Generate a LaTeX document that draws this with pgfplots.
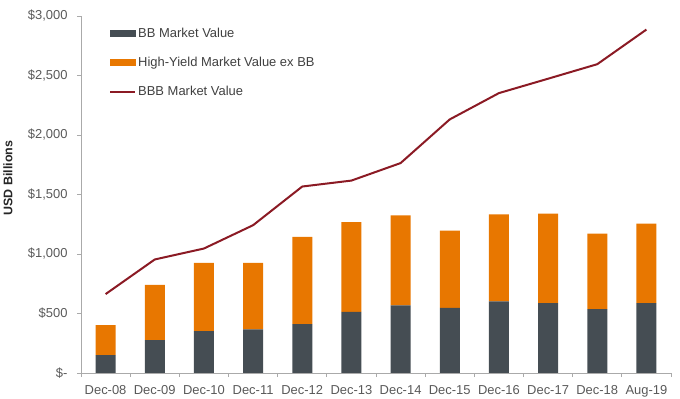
\documentclass[border=0pt]{standalone}
\usepackage{pgfplots}
\pgfplotsset{compat=1.18}
\usepackage{fontspec}
\setmainfont{Liberation Sans}
\definecolor{bbgray}{RGB}{69,77,83}
\definecolor{hyorange}{RGB}{232,119,0}
\definecolor{bbbred}{RGB}{139,26,36}
\definecolor{axgray}{RGB}{170,170,170}
\definecolor{txtgray}{RGB}{89,89,89}
\definecolor{legtxt}{RGB}{64,64,64}

\pgfplotstableread{
x bb hy bbb
0 151 252 663
1 277 464 954
2 352 573 1046
3 366 559 1242
4 411 733 1567
5 514 753 1617
6 568 757 1764
7 548 649 2131
8 601 733 2352
9 587 753 2473
10 537 635 2595
11 587 669 2886
}\datatable

\begin{document}
\begin{tikzpicture}
\useasboundingbox (0,0) rectangle (680bp,399bp);
\pgfplotsset{
  common/.style={
    at={(81bp,26bp)}, anchor=south west,
    scale only axis, width=590bp, height=357bp,
    xmin=-0.5, xmax=11.5, ymin=0, ymax=3000,
  }
}
\begin{axis}[common,
  ybar stacked, bar width=20bp,
  axis x line*=bottom, axis y line*=left,
  axis line style={axgray, line width=0.8bp},
  xtick={-0.5,0.5,...,11.5}, x tick label as interval,
  xticklabels={Dec-08,Dec-09,Dec-10,Dec-11,Dec-12,Dec-13,Dec-14,Dec-15,Dec-16,Dec-17,Dec-18,Aug-19},
  ytick={0,500,...,3000},
  yticklabels={{\$-},{\$500},{\$1,000},{\$1,500},{\$2,000},{\$2,500},{\$3,000}},
  tick align=outside, major tick length=4bp,
  tick style={axgray, line width=0.8bp},
  ticklabel style={font=\fontsize{13}{15}\selectfont, text=txtgray},
  xticklabel style={yshift=-5bp},
  yticklabel style={xshift=-6bp},
  ylabel={USD Billions},
  ylabel style={at={(axis description cs:-0.1237,0.546)}, anchor=center, font=\bfseries\fontsize{12.5}{14}\selectfont, text=black!85},
]
\addplot[fill=bbgray, draw=none] table[x=x, y=bb] {\datatable};
\addplot[fill=hyorange, draw=none] table[x=x, y=hy] {\datatable};
\end{axis}
\begin{axis}[common,
  axis lines=none,
  legend cell align=left,
  legend style={at={(axis description cs:0.0475,0.973)}, anchor=north west, draw=none, fill=none,
    font=\fontsize{13}{15}\selectfont, text=legtxt, row sep=14.5bp, inner sep=0pt},
]
\addlegendimage{legend image code/.code={\fill[bbgray] (0bp,-3bp) rectangle (25bp,3bp);}}
\addlegendentry{BB Market Value}
\addlegendimage{legend image code/.code={\fill[hyorange] (0bp,-3bp) rectangle (25bp,3bp);}}
\addlegendentry{High-Yield Market Value ex BB}
\addplot[bbbred, line width=2bp, mark=none, legend image code/.code={\draw[bbbred, line width=2bp] (0bp,0bp) -- (25bp,0bp);}] table[x=x, y=bbb] {\datatable};
\addlegendentry{BBB Market Value}
\end{axis}
\end{tikzpicture}
\end{document}
